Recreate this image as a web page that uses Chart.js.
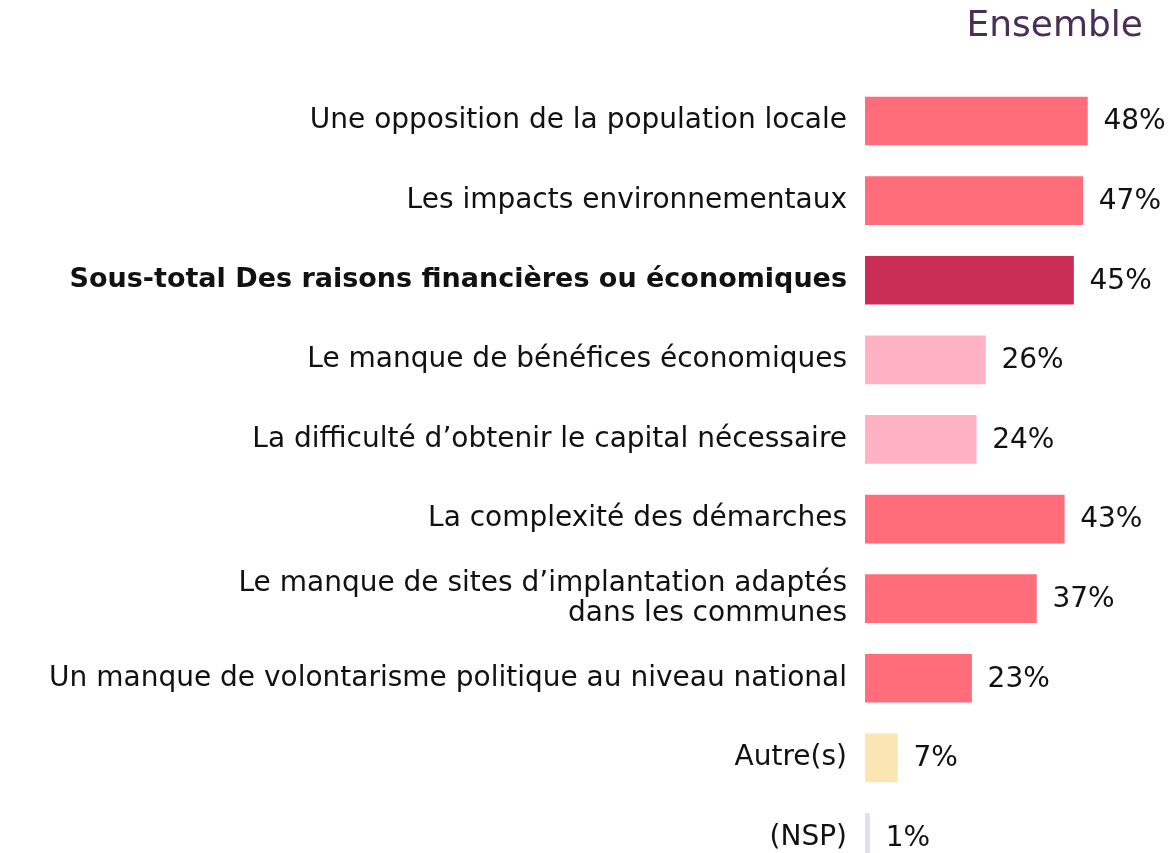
<!DOCTYPE html>
<html>
<head>
<meta charset="utf-8">
<script src="https://cdn.jsdelivr.net/npm/chart.js@4"></script>
<style>
  html, body { margin: 0; padding: 0; background: #fff; overflow: hidden; }
  canvas { display: block; }
</style>
</head>
<body>
<canvas id="chart" width="1169" height="902"></canvas>
<script>
// Données
const categories = [
  'Une opposition de la population locale',
  'Les impacts environnementaux',
  'Sous-total Des raisons financières ou économiques',
  'Le manque de bénéfices économiques',
  'La difficulté d’obtenir le capital nécessaire',
  'La complexité des démarches',
  ['Le manque de sites d’implantation adaptés', 'dans les communes'],
  'Un manque de volontarisme politique au niveau national',
  'Autre(s)',
  '(NSP)'
];
const values = [48, 47, 45, 26, 24, 43, 37, 23, 7, 1];
const barColors = ['#ff6d7a', '#ff6d7a', '#c92d55', '#ffb2c4', '#ffb2c4',
                   '#ff6d7a', '#ff6d7a', '#ff6d7a', '#fbe6b3', '#dde0ee'];
const boldIndex = 2;
const seriesTitle = 'Ensemble';

const FONT = 'DejaVu Sans';

// Etiquettes de valeur au bout des barres
const valueLabels = {
  id: 'valueLabels',
  afterDatasetsDraw(chart) {
    const ctx = chart.ctx;
    const meta = chart.getDatasetMeta(0);
    ctx.save();
    ctx.font = '28px "' + FONT + '"';
    ctx.fillStyle = '#111';
    ctx.textAlign = 'left';
    ctx.textBaseline = 'middle';
    meta.data.forEach((bar, i) => {
      ctx.fillText(values[i] + '%', bar.x + 16, bar.y + 1);
    });
    ctx.restore();
  }
};

new Chart(document.getElementById('chart'), {
  type: 'bar',
  data: {
    labels: categories,
    datasets: [{
      data: values,
      backgroundColor: barColors,
      borderWidth: 0,
      barThickness: 48
    }]
  },
  options: {
    indexAxis: 'y',
    responsive: false,
    animation: false,
    layout: { padding: { left: 0, right: 26, top: 0, bottom: 4 } },
    scales: {
      x: {
        min: 0,
        max: 60,
        display: false,
        grid: { display: false }
      },
      y: {
        grid: { display: false },
        border: { display: false },
        afterFit(scale) { scale.width = 865; },
        ticks: {
          padding: 10,
          color: '#111',
          font: (c) => ({
            family: FONT,
            size: c.index === boldIndex ? 27 : 28,
            weight: c.index === boldIndex ? 'bold' : 'normal',
            lineHeight: 1.05
          })
        }
      }
    },
    plugins: {
      legend: { display: false },
      tooltip: { enabled: false },
      title: {
        display: true,
        text: seriesTitle,
        align: 'end',
        color: '#4b2e57',
        font: { family: FONT, size: 36, weight: 'normal' },
        padding: { top: 5, bottom: 33 }
      }
    }
  },
  plugins: [valueLabels]
});
</script>
</body>
</html>
